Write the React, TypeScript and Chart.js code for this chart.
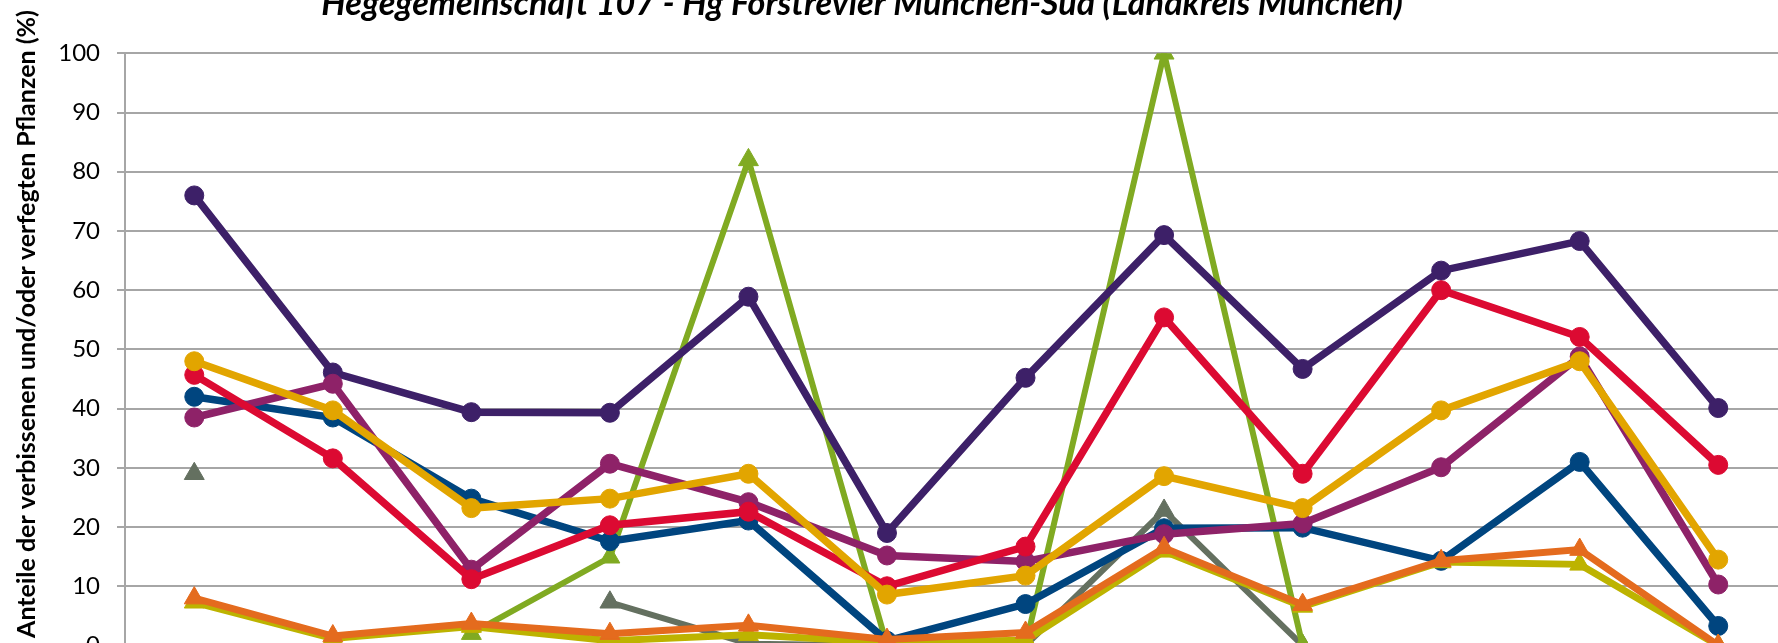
import React, { useEffect, useRef } from 'react';
import { Chart, registerables } from 'chart.js';

Chart.register(...registerables);

// ---- data ----
const categories = ['1991', '1994', '1997', '2000', '2003', '2006', '2009', '2012', '2015', '2018', '2021', '2024'];

const yMin = 0;
const yMax = 100;
const yStep = 10;

const titleText = 'Hegegemeinschaft 107 - Hg Forstrevier München-Süd (Landkreis München)';
const yAxisTitle = 'Anteile der verbissenen und/oder verfegten Pflanzen (%)';

const namePurple = 'Edellaubbäume';
const nameRed = 'Eiche';
const nameGold = 'Buche';
const nameMagenta = 'Sonstige Laubbäume';
const nameBlue = 'Fichte';
const nameGreen = 'Tanne';
const nameGrey = 'Lärche';
const nameOrange = 'Kiefer (Fegeschäden)';
const nameOlive = 'Kiefer';

const valuesPurple = [76.0, 46.1, 39.4, 39.3, 58.9, 19.0, 45.2, 69.3, 46.7, 63.3, 68.3, 40.1];
const valuesRed = [45.7, 31.6, 11.2, 20.3, 22.6, 10.0, 16.7, 55.4, 29.0, 60.0, 52.1, 30.5];
const valuesGold = [48.0, 39.7, 23.2, 24.8, 29.0, 8.6, 11.8, 28.6, 23.2, 39.7, 48.0, 14.5];
const valuesMagenta = [38.5, 44.2, 12.8, 30.7, 24.2, 15.2, 14.2, 18.8, 20.6, 30.1, 48.8, 10.3];
const valuesBlue = [42.0, 38.5, 24.8, 17.6, 21.1, 0.8, 7.0, 19.8, 19.9, 14.3, 31.0, 3.3];
const valuesGreen = [null, null, 2.0, 14.9, 82.0, 0, 0, 100, 0, null, null, null];
const valuesGrey = [29.0, null, null, 7.3, 0.3, 0, 0, 22.8, 0, null, null, null];
const valuesOrange = [8.0, 1.6, 3.7, 2.0, 3.4, 1.0, 2.2, 16.5, 6.9, 14.3, 16.2, 0];
const valuesOlive = [7.3, 1.2, 3.2, 0.8, 1.8, 0.5, 0.9, 15.9, 6.6, 14.1, 13.7, 0];

// ---- styles ----
const FONT = "Lato, 'Open Sans', 'DejaVu Sans', sans-serif";
const GRID = '#A6A6A6';

function lineDs(label: string, data: (number | null)[], color: string, style: string, width: number, radius: number) {
  return {
    label,
    data,
    borderColor: color,
    backgroundColor: color,
    pointBackgroundColor: color,
    pointBorderColor: color,
    pointBorderWidth: 1,
    borderWidth: width,
    pointStyle: style,
    pointRadius: radius,
    pointHoverRadius: radius,
    tension: 0,
    spanGaps: false,
  };
}

const textPlugin = {
  id: 'extraTexts',
  afterDraw(chart: any) {
    const ctx = chart.ctx as CanvasRenderingContext2D;
    ctx.save();
    ctx.fillStyle = '#000';
    // chart title (bold italic), fitted to reference width
    let base = 32;
    ctx.font = `italic bold ${base}px ${FONT}`;
    let w = ctx.measureText(titleText).width;
    let size = (base * 1082) / w;
    ctx.font = `italic bold ${size}px ${FONT}`;
    ctx.textAlign = 'center';
    ctx.textBaseline = 'alphabetic';
    ctx.fillText(titleText, 862, 15);

    // vertical axis title
    base = 22;
    ctx.font = `bold ${base}px ${FONT}`;
    w = ctx.measureText(yAxisTitle).width;
    size = (base * 628) / w;
    ctx.font = `bold ${size}px ${FONT}`;
    ctx.translate(27, 324);
    ctx.rotate(-Math.PI / 2);
    ctx.textAlign = 'center';
    ctx.textBaseline = 'middle';
    ctx.fillText(yAxisTitle, 0, 0);
    ctx.restore();
  },
};

export default function App() {
  const ref = useRef<HTMLCanvasElement | null>(null);

  useEffect(() => {
    if (!ref.current) return;
    const chart = new Chart(ref.current, {
      type: 'line',
      data: {
        labels: categories,
        datasets: [
          lineDs(nameOrange, valuesOrange, '#E46B1E', 'triangle', 7, 11.5),
          lineDs(nameOlive, valuesOlive, '#BDB300', 'triangle', 7, 11.5),
          lineDs(nameGold, valuesGold, '#E2A500', 'circle', 7.5, 9.5),
          lineDs(nameRed, valuesRed, '#DC0A32', 'circle', 7.5, 9.5),
          lineDs(nameMagenta, valuesMagenta, '#8E2268', 'circle', 7.5, 9.5),
          lineDs(nameBlue, valuesBlue, '#00457F', 'circle', 7.5, 9.5),
          lineDs(namePurple, valuesPurple, '#3D2068', 'circle', 7.5, 9.5),
          lineDs(nameGreen, valuesGreen, '#80AA22', 'triangle', 6, 11.5),
          lineDs(nameGrey, valuesGrey, '#647060', 'triangle', 6, 11.5),
        ] as any,
      },
      options: {
        animation: false,
        responsive: false,
        devicePixelRatio: 1,
        events: [],
        layout: { padding: { left: 0, top: 53.3, right: 10, bottom: 14.5 } },
        plugins: {
          legend: { display: false },
          title: { display: false },
          tooltip: { enabled: false },
        },
        scales: {
          x: {
            type: 'category',
            offset: true,
            grid: { display: false },
            border: { display: true, color: GRID, width: 2 },
            ticks: { color: '#000', font: { family: FONT, size: 24 } },
            afterFit: (s: any) => {
              s.height = 40;
            },
          },
          y: {
            min: yMin,
            max: yMax,
            ticks: {
              stepSize: yStep,
              padding: 17,
              color: '#000',
              font: { family: FONT, size: 24 },
            },
            grid: { color: GRID, lineWidth: 2, tickLength: 8, drawTicks: true },
            border: { display: true, color: GRID, width: 2 },
            afterFit: (s: any) => {
              s.width = 125;
            },
          },
        },
      } as any,
      plugins: [textPlugin],
    });
    return () => chart.destroy();
  }, []);

  return (
    <div
      style={{
        position: 'fixed',
        left: 0,
        top: 0,
        width: 1778,
        height: 643,
        overflow: 'hidden',
        background: '#fff',
      }}
    >
      <canvas
        ref={ref}
        width={1800}
        height={700}
        style={{ position: 'absolute', left: 0, top: 0, width: 1800, height: 700 }}
      />
    </div>
  );
}
